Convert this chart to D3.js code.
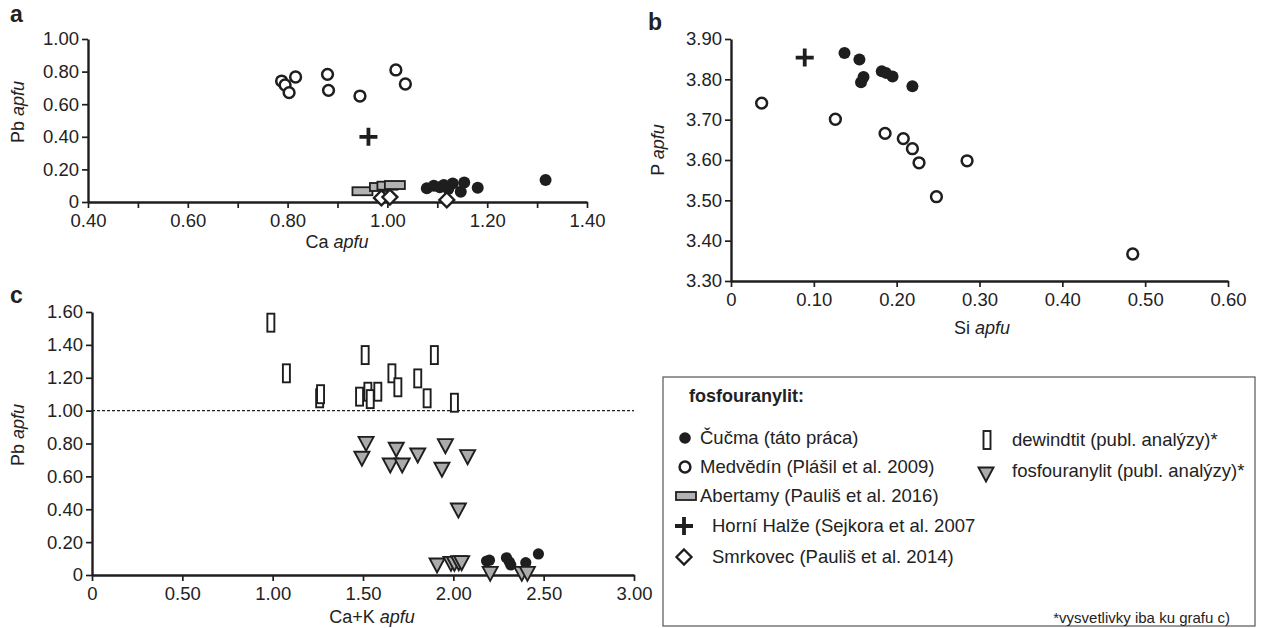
<!DOCTYPE html>
<html><head><meta charset="utf-8">
<script src="https://cdn.jsdelivr.net/npm/d3@7"></script>
<style>
body{margin:0;background:#fff;}
svg text{font-family:"Liberation Sans",Arial,sans-serif;fill:#222;}
</style></head>
<body><svg id="c" width="1265" height="628"></svg>
<script>
// ---------- DATA ----------
// Panel a: Ca apfu (x) vs Pb apfu (y)
const aCucma = [[1.079,0.084],[1.093,0.100],[1.105,0.090],[1.113,0.104],[1.122,0.080],[1.131,0.114],[1.147,0.063],[1.154,0.119],[1.181,0.088],[1.317,0.135]];
const aMedvedin = [[0.788,0.742],[0.795,0.718],[0.803,0.671],[0.816,0.767],[0.880,0.783],[0.882,0.685],[0.945,0.650],[1.017,0.810],[1.036,0.724]];
const aAbertamy = [[0.950,0.066],[0.985,0.092],[1.000,0.100],[1.015,0.104]];
const aHorniHalze = [[0.962,0.400]];
const aSmrkovec = [[0.988,0.025],[1.005,0.030],[1.119,0.013]];
const aXTicks = [0.4,0.5,0.6,0.7,0.8,0.9,1.0,1.1,1.2,1.3,1.4];
const aXLabels = [0.4,0.6,0.8,1.0,1.2,1.4];
const aYTicks = [0,0.2,0.4,0.6,0.8,1.0];

// Panel b: Si apfu (x) vs P apfu (y)
const bCucma = [[0.137,3.865],[0.155,3.849],[0.160,3.806],[0.157,3.793],[0.182,3.820],[0.187,3.816],[0.195,3.807],[0.219,3.783]];
const bMedvedin = [[0.037,3.741],[0.126,3.701],[0.186,3.666],[0.208,3.653],[0.219,3.628],[0.227,3.593],[0.248,3.509],[0.285,3.598],[0.485,3.367]];
const bHorniHalze = [[0.089,3.854]];
const bXTicks = [0,0.1,0.2,0.3,0.4,0.5,0.6];
const bYTicks = [3.3,3.4,3.5,3.6,3.7,3.8,3.9];

// Panel c: Ca+K apfu (x) vs Pb apfu (y)
const cCucma = [[2.184,0.085],[2.200,0.090],[2.294,0.105],[2.310,0.080],[2.318,0.061],[2.401,0.075],[2.471,0.128]];
const cDewindtit = [[0.990,1.535],[1.076,1.227],[1.260,1.075],[1.265,1.100],[1.481,1.085],[1.512,1.338],[1.527,1.115],[1.540,1.070],[1.582,1.115],[1.660,1.227],[1.693,1.142],[1.803,1.196],[1.855,1.075],[1.895,1.338],[2.006,1.048]];
const cFosfo = [[1.517,0.801],[1.494,0.710],[1.684,0.765],[1.651,0.669],[1.717,0.669],[1.803,0.730],[1.956,0.787],[1.937,0.643],[2.079,0.720],[2.028,0.395],[1.910,0.061],[1.987,0.071],[2.006,0.071],[2.030,0.075],[2.046,0.075],[2.204,0.010],[2.379,0.010],[2.410,0.010]];
const cRefLine = [1.0];
const cXTicks = [0,0.5,1.0,1.5,2.0,2.5,3.0];
const cYTicks = [0,0.2,0.4,0.6,0.8,1.0,1.2,1.4,1.6];

// Legend
const legendTitle = "fosfouranylit:";
const legendLeft = ["Čučma (táto práca)","Medvědín (Plášil et al. 2009)","Abertamy (Pauliš et al. 2016)","Horní Halže (Sejkora et al. 2007","Smrkovec (Pauliš et al. 2014)"];
const legendRight = ["dewindtit (publ. analýzy)*","fosfouranylit (publ. analýzy)*"];
const legendNote = "*vysvetlivky iba ku grafu c)";

// ---------- DRAW ----------
const svg = d3.select("#c");
const INK = "#1e1e1e";
const TICKFS = "18.5px";
const fmt = d => d === 0 ? "0" : d3.format(".2f")(d);

function panel(o){
  const g = svg.append("g");
  const x = d3.scaleLinear().domain(o.xd).range(o.xr);
  const y = d3.scaleLinear().domain(o.yd).range(o.yr);
  const xa = d3.axisBottom(x).tickValues(o.xt).tickSize(6).tickSizeOuter(0).tickPadding(6)
     .tickFormat(d => o.xl.some(v => Math.abs(v-d)<1e-9) ? fmt(d) : "");
  const ya = d3.axisLeft(y).tickValues(o.yt).tickSize(6).tickSizeOuter(0).tickPadding(3).tickFormat(fmt);
  const gx = g.append("g").attr("transform",`translate(0,${o.yr[0]})`).call(xa);
  const gy = g.append("g").attr("transform",`translate(${o.xr[0]},0)`).call(ya);
  [gx,gy].forEach(a=>{
    a.select(".domain").attr("stroke",INK).attr("stroke-width",2.4);
    a.selectAll(".tick line").attr("stroke",INK).attr("stroke-width",1.7);
    a.selectAll(".tick text").style("font-size",TICKFS).attr("fill","#222");
  });
  return {g,x,y};
}

function drawFilled(g,pts,x,y,r){ g.selectAll(null).data(pts).enter().append("circle")
  .attr("cx",d=>x(d[0])).attr("cy",d=>y(d[1])).attr("r",r).attr("fill",INK); }
function drawOpen(g,pts,x,y){ g.selectAll(null).data(pts).enter().append("circle")
  .attr("cx",d=>x(d[0])).attr("cy",d=>y(d[1])).attr("r",5.4).attr("fill","#fff").attr("stroke",INK).attr("stroke-width",2.5); }
function drawAbert(g,pts,x,y){ g.selectAll(null).data(pts).enter().append("rect")
  .attr("x",d=>x(d[0])-10).attr("y",d=>y(d[1])-4).attr("width",20).attr("height",8)
  .attr("fill","#b3b3b3").attr("stroke",INK).attr("stroke-width",1.8); }
function drawCross(g,pts,x,y){ pts.forEach(d=>{ const cx=x(d[0]), cy=y(d[1]);
  g.append("path").attr("d",`M${cx-9},${cy}H${cx+9}M${cx},${cy-9}V${cy+9}`).attr("stroke",INK).attr("stroke-width",3.8); }); }
function drawDiamond(g,pts,x,y){ g.selectAll(null).data(pts).enter().append("path")
  .attr("d",d=>{const cx=x(d[0]),cy=y(d[1]);return `M${cx},${cy-7.5}L${cx+7.5},${cy}L${cx},${cy+7.5}L${cx-7.5},${cy}Z`;})
  .attr("fill","#fff").attr("stroke",INK).attr("stroke-width",2.3); }
function drawDew(g,pts,x,y){ g.selectAll(null).data(pts).enter().append("rect")
  .attr("x",d=>x(d[0])-3.5).attr("y",d=>y(d[1])-9).attr("width",7).attr("height",18)
  .attr("fill","#fff").attr("stroke",INK).attr("stroke-width",1.9); }
function drawTri(g,pts,x,y){ g.selectAll(null).data(pts).enter().append("path")
  .attr("d",d=>{const cx=x(d[0]),cy=y(d[1]);return `M${cx-7.5},${cy-6.5}L${cx+7.5},${cy-6.5}L${cx},${cy+7.5}Z`;})
  .attr("fill","#ababab").attr("stroke",INK).attr("stroke-width",1.9).attr("stroke-linejoin","miter"); }

function label(txt, italic, x, y, rot, size){
  const t = svg.append("text").attr("text-anchor","middle").style("font-size",(size||18)+"px");
  if(rot) t.attr("transform",`translate(${x},${y}) rotate(-90)`); else t.attr("x",x).attr("y",y);
  t.append("tspan").text(txt+" ");
  t.append("tspan").style("font-style","italic").text(italic);
}
function letter(t,x,y){ svg.append("text").attr("x",x).attr("y",y).style("font-size","23px").style("font-weight","bold").text(t); }

// Panel a
{
  const {g,x,y} = panel({xd:[0.4,1.4],xr:[88,587],yd:[0,1],yr:[202,39],xt:aXTicks,xl:aXLabels,yt:aYTicks});
  drawOpen(g,aMedvedin,x,y);
  drawCross(g,aHorniHalze,x,y);
  drawAbert(g,aAbertamy,x,y);
  drawFilled(g,aCucma,x,y,6);
  drawDiamond(g,aSmrkovec,x,y);
  label("Ca","apfu",337,248,false);
  label("Pb","apfu",24,112,true);
  letter("a",10,22);
}
// Panel b
{
  const {g,x,y} = panel({xd:[0,0.6],xr:[731,1228],yd:[3.3,3.9],yr:[281,39],xt:bXTicks,xl:bXTicks,yt:bYTicks});
  drawOpen(g,bMedvedin,x,y);
  drawCross(g,bHorniHalze,x,y);
  drawFilled(g,bCucma,x,y,6);
  label("Si","apfu",982,334,false);
  label("P","apfu",664,150,true);
  letter("b",648,30);
}
// Panel c
{
  const {g,x,y} = panel({xd:[0,3],xr:[92,634],yd:[0,1.6],yr:[575,312],xt:cXTicks,xl:cXTicks,yt:cYTicks});
  g.selectAll(null).data(cRefLine).enter().append("line")
    .attr("x1",x(0)).attr("x2",x(3)).attr("y1",d=>y(d)).attr("y2",d=>y(d))
    .attr("stroke",INK).attr("stroke-width",1.4).attr("stroke-dasharray","3,2");
  drawDew(g,cDewindtit,x,y);
  drawFilled(g,cCucma,x,y,5.6);
  drawTri(g,cFosfo,x,y);
  label("Ca+K","apfu",372,623,false);
  label("Pb","apfu",24,435,true);
  letter("c",10,303);
}
// Legend
{
  const L = svg.append("g");
  const LFS = "18.5px";
  L.append("rect").attr("x",663).attr("y",377).attr("width",592).attr("height",249)
    .attr("fill","none").attr("stroke","#555").attr("stroke-width",1.2);
  L.append("text").attr("x",689).attr("y",402).style("font-size","18px").style("font-weight","bold").text(legendTitle);
  const ly = [438,467,496,526,557];
  const lx = [700,700,700,712,712];
  legendLeft.forEach((t,i)=>L.append("text").attr("x",lx[i]).attr("y",ly[i]).attr("dy","0.35em").style("font-size",LFS).text(t));
  const id = d3.scaleLinear().domain([0,1]).range([0,1]);
  drawFilled(L,[[685,438]],id,id,5.8);
  drawOpen(L,[[685,467]],id,id);
  drawAbert(L,[[686,496]],id,id);
  drawCross(L,[[684,526]],id,id);
  drawDiamond(L,[[684,557]],id,id);
  const ry = [440,471];
  legendRight.forEach((t,i)=>L.append("text").attr("x",1012).attr("y",ry[i]).attr("dy","0.35em").style("font-size",LFS).text(t));
  drawDew(L,[[987,440]],id,id);
  drawTri(L,[[986,474]],id,id);
  L.append("text").attr("x",1230).attr("y",618).attr("dy","0.35em").attr("text-anchor","end").style("font-size","15px").text(legendNote);
}
</script></body></html>
